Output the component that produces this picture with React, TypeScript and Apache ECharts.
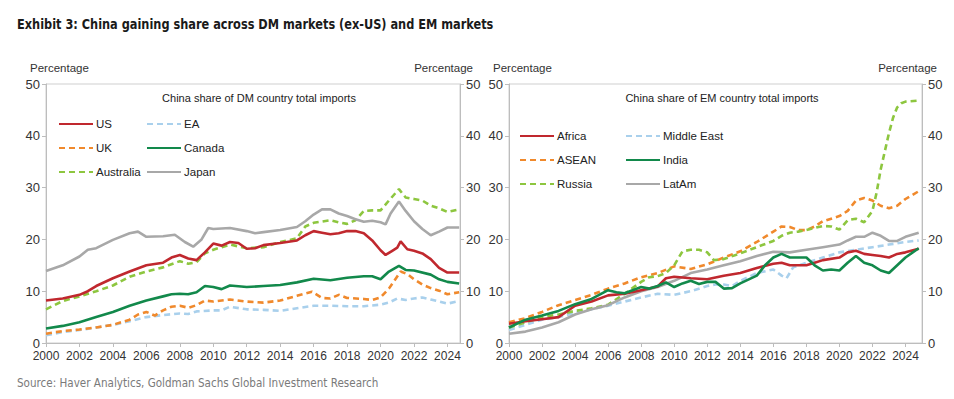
import React, { useEffect, useRef } from "react";
import * as echarts from "echarts";

type P = [number, number][];

// ---------- DM panel: China share of DM country total imports (%) ----------
const US: P = [
  [2000, 8.2], [2001, 8.6], [2002, 9.3], [2002.5, 10], [2003, 11], [2004, 12.5], [2005, 13.8], [2006, 15],
  [2007, 15.5], [2007.5, 16.5], [2008, 17], [2008.5, 16.3], [2009, 16], [2009.5, 17.5], [2010, 19.2],
  [2010.5, 18.8], [2011, 19.5], [2011.5, 19.3], [2012, 18.2], [2012.5, 18.3], [2013, 18.9], [2014, 19.3],
  [2015, 19.8], [2015.5, 20.8], [2016, 21.6], [2016.5, 21.3], [2017, 21], [2017.5, 21.2], [2018, 21.6],
  [2018.5, 21.6], [2019, 21.2], [2019.5, 19.8], [2020, 17.9], [2020.3, 17.0], [2020.7, 17.8], [2021, 18.4],
  [2021.2, 19.6], [2021.6, 18.1], [2022, 17.8], [2022.5, 17.3], [2023, 16.2], [2023.5, 14.5], [2024, 13.6],
  [2024.7, 13.6],
];
const EA: P = [
  [2000, 1.5], [2001, 2.1], [2002, 2.5], [2003, 3], [2004, 3.5], [2005, 4.2], [2006, 5], [2007, 5.4],
  [2008, 5.7], [2008.5, 5.6], [2009, 6.1], [2010, 6.3], [2010.5, 6.3], [2011, 7], [2012, 6.5], [2013, 6.4],
  [2014, 6.2], [2015, 6.7], [2016, 7.2], [2017, 7.2], [2018, 7.1], [2019, 7.1], [2020, 7.4], [2020.5, 7.8],
  [2021, 8.6], [2021.5, 8.3], [2022, 8.6], [2022.5, 8.8], [2023, 8.4], [2023.5, 8.0], [2024, 7.6], [2024.7, 8.1],
];
const UK: P = [
  [2000, 1.8], [2001, 2.3], [2002, 2.6], [2003, 3], [2004, 3.5], [2005, 4.5], [2005.5, 5.5], [2006, 6],
  [2006.5, 5.3], [2007, 6.3], [2007.5, 7], [2008, 7.2], [2008.5, 6.8], [2009, 7.3], [2009.5, 8.2], [2010, 8.0],
  [2011, 8.4], [2012, 8], [2013, 7.8], [2014, 8.2], [2015, 9.1], [2015.9, 9.9], [2016.5, 8.7], [2017, 8.6],
  [2017.5, 9.3], [2018, 8.7], [2019, 8.5], [2019.5, 8.3], [2020, 8.8], [2020.5, 10.5], [2021.2, 13.8],
  [2021.6, 13.3], [2022, 12.3], [2022.5, 11.3], [2023, 10.6], [2023.5, 10.1], [2024, 9.4], [2024.7, 9.8],
];
const CANADA: P = [
  [2000, 2.8], [2001, 3.3], [2002, 4], [2003, 5], [2004, 6], [2005, 7.2], [2006, 8.2], [2007, 9], [2007.5, 9.4],
  [2008, 9.5], [2008.5, 9.4], [2009, 9.8], [2009.5, 11], [2010, 10.8], [2010.5, 10.4], [2011, 11.1], [2012, 10.8],
  [2013, 11], [2014, 11.2], [2015, 11.7], [2016, 12.4], [2017, 12.1], [2018, 12.6], [2019, 12.9], [2019.5, 12.9],
  [2020, 12.3], [2020.5, 13.8], [2021.1, 14.9], [2021.5, 14.1], [2022, 14], [2023, 13.2], [2023.5, 12.3],
  [2024, 11.8], [2024.7, 11.5],
];
const AUSTRALIA: P = [
  [2000, 6.5], [2001, 8.1], [2002, 9.0], [2003, 10], [2004, 11.1], [2005, 12.8], [2006, 13.8], [2007, 14.6],
  [2008, 15.8], [2008.5, 15.3], [2009, 15.6], [2009.5, 17.3], [2010, 18.0], [2011, 19], [2012, 18.3], [2013, 18.5],
  [2014, 19.5], [2015, 20.2], [2015.5, 22.5], [2016, 23.2], [2017, 23.7], [2017.5, 23.3], [2018, 23], [2018.5, 23.7],
  [2019, 25.5], [2019.5, 25.6], [2020, 25.6], [2020.5, 27.5], [2021.1, 29.7], [2021.5, 28.1], [2022, 27.8],
  [2022.5, 27.5], [2023, 26.5], [2023.5, 26], [2024, 25.3], [2024.7, 25.8],
];
const JAPAN: P = [
  [2000, 13.9], [2001, 15], [2002, 16.7], [2002.5, 18], [2003, 18.3], [2004, 19.9], [2005, 21.2], [2005.5, 21.5],
  [2006, 20.5], [2007, 20.6], [2007.7, 20.9], [2008.3, 19.5], [2008.8, 18.6], [2009.3, 20], [2009.7, 22.2],
  [2010, 22.0], [2011, 22.2], [2012, 21.6], [2012.5, 21.2], [2013, 21.4], [2014, 21.8], [2015, 22.4],
  [2015.5, 23.5], [2016, 24.8], [2016.5, 25.8], [2017, 25.8], [2017.5, 25], [2018, 24.5], [2018.5, 23.9],
  [2019, 23.4], [2019.5, 23.6], [2020, 23.3], [2020.3, 22.9], [2020.6, 25], [2021.1, 27.3], [2021.5, 25.5],
  [2022, 23.5], [2022.5, 22], [2023, 20.8], [2023.5, 21.5], [2024, 22.3], [2024.7, 22.3],
];

// ---------- EM panel: China share of EM country total imports (%) ----------
const AFRICA: P = [
  [2000, 3.7], [2001, 4.2], [2002, 4.6], [2003, 5], [2004, 7.2], [2005, 8], [2006, 9.2], [2007, 9.5], [2008, 10.2],
  [2009, 10.9], [2009.5, 12.5], [2010, 12.8], [2011, 12.5], [2012, 12.3], [2013, 13], [2014, 13.5], [2015, 14.5],
  [2016, 15.3], [2016.5, 15.5], [2017, 15], [2018, 15], [2018.5, 15.5], [2019, 16], [2020, 16.5], [2020.5, 17.5],
  [2021, 17.8], [2021.5, 17.2], [2022, 17], [2022.5, 16.8], [2023, 16.5], [2023.5, 17.2], [2024, 17.5],
  [2024.8, 18.2],
];
const MIDDLE_EAST: P = [
  [2000, 2.5], [2001, 3.5], [2002, 4.5], [2003, 5], [2004, 5.8], [2005, 6.5], [2006, 7.2], [2007, 8], [2008, 8.8],
  [2009, 9.5], [2010, 9.3], [2011, 10], [2012, 11], [2012.5, 11.3], [2013, 11.3], [2013.5, 11], [2014, 12],
  [2015, 13.5], [2016, 14.2], [2016.5, 13], [2016.8, 12.5], [2017.2, 14.6], [2018, 15.5], [2019, 16.5],
  [2020, 17.5], [2021, 18], [2022, 18.5], [2023, 19], [2024, 19.5], [2024.8, 19.8],
];
const ASEAN: P = [
  [2000, 4], [2001, 4.8], [2002, 6], [2003, 7.3], [2004, 8.3], [2005, 9.3], [2006, 10.5], [2007, 11.5],
  [2008, 12.7], [2009, 13.5], [2010, 14.8], [2011, 14.3], [2012, 15.2], [2013, 16.5], [2014, 17.7], [2015, 19.5],
  [2016, 21.5], [2016.5, 22.5], [2017, 22.4], [2017.5, 21.8], [2018, 21.8], [2018.5, 22.5], [2019, 23.5],
  [2020, 24.5], [2020.5, 25.5], [2021, 27.5], [2021.5, 28], [2022, 27.5], [2022.5, 26.5], [2023, 26],
  [2023.5, 26.5], [2024, 27.8], [2024.8, 29.3],
];
const INDIA: P = [
  [2000, 3], [2001, 4.5], [2002, 5.3], [2003, 6.2], [2004, 7.5], [2005, 8.5], [2006, 10.2], [2006.5, 9.8],
  [2007, 9.6], [2008, 10.8], [2008.5, 10.5], [2009, 11], [2009.5, 11.7], [2010, 10.8], [2010.5, 11.5], [2011, 12],
  [2011.5, 11.4], [2012, 11.8], [2012.5, 11.8], [2013, 10.5], [2013.5, 10.6], [2014, 11.5], [2015, 13],
  [2015.5, 15], [2016, 16.5], [2016.5, 17.2], [2017, 16.5], [2017.5, 16.5], [2018, 16.5], [2018.5, 15],
  [2019, 14], [2019.5, 14.2], [2020, 14], [2020.5, 15.5], [2021, 16.8], [2021.5, 15.5], [2022, 15],
  [2022.5, 14], [2023, 13.5], [2023.5, 15], [2024, 16.5], [2024.8, 18.3],
];
const RUSSIA: P = [
  [2000, 3], [2001, 4], [2002, 5], [2003, 5.5], [2004, 6.2], [2005, 6.7], [2006, 7.4], [2007, 9.5], [2008, 11.8],
  [2008.5, 12.7], [2009, 12.9], [2009.5, 13.5], [2010, 15], [2010.5, 17.7], [2011, 18], [2011.5, 18], [2012, 17.5],
  [2012.4, 16], [2013, 16.2], [2014, 17.3], [2015, 18.5], [2016, 19.7], [2016.5, 20.7], [2017, 21.3],
  [2017.5, 21.5], [2018, 21.8], [2019, 22.6], [2019.5, 22.5], [2020, 21.9], [2020.5, 23.7], [2021, 24],
  [2021.5, 23.3], [2022, 25.5], [2022.25, 29], [2022.5, 33.5], [2022.75, 37], [2023, 40.5], [2023.25, 43.5],
  [2023.5, 45.5], [2023.75, 46.3], [2024, 46.6], [2024.8, 46.8],
];
const LATAM: P = [
  [2000, 1.8], [2001, 2.2], [2002, 3], [2003, 4], [2004, 5.5], [2005, 6.5], [2006, 7.3], [2007, 8.8], [2008, 10],
  [2009, 10.8], [2010, 12], [2011, 13.5], [2012, 14.2], [2013, 15], [2014, 15.8], [2015, 16.8], [2016, 17.6],
  [2017, 17.5], [2018, 18], [2019, 18.5], [2020, 19], [2020.5, 19.8], [2021, 20.5], [2021.5, 20.5], [2022, 21.3],
  [2022.5, 20.7], [2023, 19.7], [2023.5, 19.7], [2024, 20.5], [2024.8, 21.3],
];

const TITLE = "Exhibit 3: China gaining share across DM markets (ex-US) and EM markets";
const SOURCE = "Source: Haver Analytics, Goldman Sachs Global Investment Research";
const DM_SUBTITLE = "China share of DM country total imports";
const EM_SUBTITLE = "China share of EM country total imports";
const AXIS_NAME = "Percentage";

const C = {
  red: "#c0282e",
  lightBlue: "#a9d0ec",
  orange: "#f0892c",
  green: "#12894b",
  lightGreen: "#8dc63f",
  gray: "#a8a8a8",
};

const FONT = "Liberation Sans, Arial, sans-serif";
const NARROW = "DejaVu Sans Condensed, DejaVu Sans, sans-serif";

export default function App() {
  const ref = useRef<HTMLDivElement>(null);

  useEffect(() => {
    if (!ref.current) return;
    const chart = echarts.init(ref.current, undefined, { renderer: "svg" });

    const line = (name: string, data: P, color: string, dashed: boolean, grid: number) => ({
      type: "line",
      name,
      data,
      xAxisIndex: grid,
      yAxisIndex: grid * 2,
      symbol: "none",
      showSymbol: false,
      lineStyle: { color, width: 2.6, type: dashed ? [6, 4] : "solid" },
      itemStyle: { color },
      z: dashed ? 3 : 4,
    });

    const xAxis = (gridIndex: number, max: number) => ({
      type: "value",
      gridIndex,
      min: 2000,
      max,
      interval: 2,
      axisLine: { show: true, lineStyle: { color: "#bdbdbd" } },
      axisTick: { show: true, length: 4, lineStyle: { color: "#bdbdbd" } },
      splitLine: { show: false },
      axisLabel: {
        color: "#333",
        fontSize: 12,
        fontFamily: FONT,
        margin: 7,
        showMaxLabel: false,
        formatter: (v: number) => String(Math.round(v)),
      },
    });

    const yAxis = (gridIndex: number, position: "left" | "right") => ({
      type: "value",
      gridIndex,
      position,
      min: 0,
      max: 50,
      interval: 10,
      axisLine: { show: true, lineStyle: { color: "#bdbdbd" } },
      axisTick: { show: true, length: 4, lineStyle: { color: "#bdbdbd" } },
      splitLine: { show: false },
      axisLabel: { color: "#333", fontSize: 13, fontFamily: FONT, margin: 6 },
    });

    const legend = (left: number, top: number, data: string[]) => ({
      left,
      top,
      orient: "vertical",
      itemWidth: 34,
      itemHeight: 14,
      itemGap: 12,
      padding: 0,
      selectedMode: false,
      itemStyle: { opacity: 0 },
      textStyle: { fontSize: 11.5, fontFamily: FONT, color: "#222", padding: [0, 0, 0, -2] },
      data,
    });

    const text = (x: number, y: number, t: string, opts: any = {}) => ({
      type: "text",
      x,
      y,
      scaleX: opts.scaleX ?? 1,
      style: {
        text: t,
        fill: opts.fill ?? "#333",
        font: opts.font ?? `11.5px ${FONT}`,
        textAlign: opts.align ?? "left",
        textVerticalAlign: "middle",
      },
    });

    chart.setOption({
      animation: false,
      backgroundColor: "#ffffff",
      grid: [
        { left: 46, top: 84, width: 414, height: 259, show: true, borderColor: "#cfcfcf", borderWidth: 1 },
        { left: 509, top: 84, width: 413, height: 259, show: true, borderColor: "#cfcfcf", borderWidth: 1 },
      ],
      xAxis: [xAxis(0, 2024.75), xAxis(1, 2025)],
      yAxis: [yAxis(0, "left"), yAxis(0, "right"), yAxis(1, "left"), yAxis(1, "right")],
      legend: [
        legend(58, 118, ["US", "UK", "Australia"]),
        legend(146, 118, ["EA", "Canada", "Japan"]),
        legend(519, 130, ["Africa", "ASEAN", "Russia"]),
        legend(625, 130, ["Middle East", "India", "LatAm"]),
      ],
      graphic: [
        text(17, 24, TITLE, { font: `bold 14.5px ${NARROW}`, fill: "#1a1a1a", scaleX: 0.87 }),
        text(17, 383, SOURCE, { font: `13px ${NARROW}`, fill: "#7a7a7a", scaleX: 0.89 }),
        text(30, 68, AXIS_NAME),
        text(473, 68, AXIS_NAME, { align: "right" }),
        text(493, 68, AXIS_NAME),
        text(937, 68, AXIS_NAME, { align: "right" }),
        text(259, 98, DM_SUBTITLE, { font: `11px ${FONT}`, align: "center", fill: "#222" }),
        text(722, 98, EM_SUBTITLE, { font: `11px ${FONT}`, align: "center", fill: "#222" }),
      ],
      series: [
        line("EA", EA, C.lightBlue, true, 0),
        line("UK", UK, C.orange, true, 0),
        line("Australia", AUSTRALIA, C.lightGreen, true, 0),
        line("Japan", JAPAN, C.gray, false, 0),
        line("Canada", CANADA, C.green, false, 0),
        line("US", US, C.red, false, 0),
        line("Middle East", MIDDLE_EAST, C.lightBlue, true, 1),
        line("ASEAN", ASEAN, C.orange, true, 1),
        line("Russia", RUSSIA, C.lightGreen, true, 1),
        line("LatAm", LATAM, C.gray, false, 1),
        line("Africa", AFRICA, C.red, false, 1),
        line("India", INDIA, C.green, false, 1),
      ],
    });

    return () => chart.dispose();
  }, []);

  return (
    <div
      ref={ref}
      style={{ position: "absolute", left: 0, top: 0, width: 954, height: 399, background: "#fff" }}
    />
  );
}
